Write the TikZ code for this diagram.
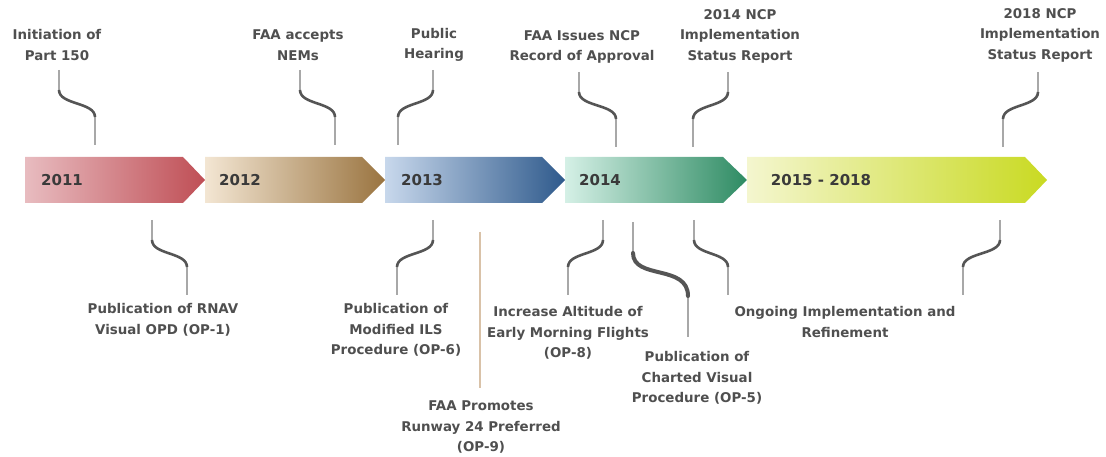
\documentclass[tikz,border=0pt]{standalone}
\usepackage{fontspec}
\setmainfont{DejaVu Sans}
\definecolor{labelgray}{HTML}{4F4F4F}
\definecolor{yeargray}{HTML}{3A3A3A}
\definecolor{stemgray}{HTML}{A8A8A8}
\definecolor{bendgray}{HTML}{555555}
\definecolor{tanline}{HTML}{D9C2A8}
\definecolor{aAl}{HTML}{E8BCC0}\definecolor{aAr}{HTML}{BF4E55}
\definecolor{aBl}{HTML}{F3E6D3}\definecolor{aBr}{HTML}{9A7440}
\definecolor{aCl}{HTML}{C8D8EC}\definecolor{aCr}{HTML}{2F5A8C}
\definecolor{aDl}{HTML}{D5F0E6}\definecolor{aDr}{HTML}{2E8B63}
\definecolor{aEl}{HTML}{F4F6CF}\definecolor{aEr}{HTML}{C9DA22}
\begin{document}
\begin{tikzpicture}[x=1pt,y=-1pt,
  lbl/.style={font=\fontsize{13.4}{20.5}\selectfont\bfseries, text=labelgray, align=center, inner sep=0pt},
  year/.style={font=\fontsize{15}{18}\selectfont\bfseries, text=yeargray, inner sep=0pt},
  stem/.style={draw=stemgray, line width=1.3pt},
  scurve/.style={draw=bendgray, line width=2.6pt},
  scurvethick/.style={draw=bendgray, line width=4pt, line cap=round},
  tanstem/.style={draw=tanline, line width=1.5pt}]
\useasboundingbox (0,0) rectangle (1106,457);
% timeline arrows
\foreach \xo/\xb/\xt/\lc/\rc in {25/183/205/aAl/aAr, 205/362/385/aBl/aBr, 385/542/565/aCl/aCr, 565/723/747/aDl/aDr, 747/1025/1047/aEl/aEr}{
  \shade[left color=\lc, right color=\rc] (\xo,157) -- (\xb,157) -- (\xt,180) -- (\xb,203) -- (\xo,203) -- cycle;
}
\node[year] (y11) at (62,180) {2011};
\node[year] (y12) at (240,180) {2012};
\node[year] (y13) at (422,180) {2013};
\node[year] (y14) at (600,180) {2014};
\node[year] (y15) at (821,180) {2015 - 2018};
% top labels
\node[lbl] (t1) at (57,45) {Initiation of\\Part 150};
\node[lbl] (t2) at (298,45) {FAA accepts\\NEMs};
\node[lbl] (t3) at (434,45) {Public\\Hearing};
\node[lbl] (t4) at (582,47) {FAA Issues NCP\\Record of Approval};
\node[lbl] (t5) at (740,36) {2014 NCP\\Implementation\\Status Report};
\node[lbl] (t6) at (1040,35) {2018 NCP\\Implementation\\Status Report};
% bottom labels
\node[lbl] (b1) at (163,320) {Publication of RNAV\\Visual OPD (OP-1)};
\node[lbl] (b2) at (396,330) {Publication of\\Modified ILS\\Procedure (OP-6)};
\node[lbl] (b3) at (481,427) {FAA Promotes\\Runway 24 Preferred\\(OP-9)};
\node[lbl] (b4) at (568,333) {Increase Altitude of\\Early Morning Flights\\(OP-8)};
\node[lbl] (b5) at (697,378) {Publication of\\Charted Visual\\Procedure (OP-5)};
\node[lbl] (b6) at (845,322) {Ongoing Implementation and\\Refinement};
% S-shaped connectors
\foreach \n/\xa/\xb/\y in {c1/59/95/70, c2/300/335/70, c3/433/398/70, c4/579/616/72, c5/728/693/72, c6/1038/1003/72,
                           d1/152/187/220, d2/433/397/220, d4/603/568/220, d6/694/728/220, d7/1000/963/220}{
  \coordinate (\n-0) at (\xa,\y);
  \coordinate (\n-1) at (\xa,\y+20);
  \coordinate (\n-2) at (\xb,\y+47);
  \coordinate (\n-3) at (\xb,\y+75);
  \draw[stem] (\n-0) -- (\n-1);
  \draw[stem] (\n-2) -- (\n-3);
  \draw[scurve] (\n-1) .. controls (\xa,\y+35) and (\xb,\y+32) .. (\n-2);
}
% thick connector to charted visual procedure
\coordinate (d5-0) at (633,222);
\coordinate (d5-1) at (633,253);
\coordinate (d5-2) at (688,296);
\coordinate (d5-3) at (688,337);
\draw[stem] (d5-0) -- (d5-1);
\draw[stem] (d5-2) -- (d5-3);
\draw[scurvethick] (d5-1) .. controls (633,280) and (688,264) .. (d5-2);
% straight connector to runway 24
\coordinate (d3-0) at (480,232);
\coordinate (d3-1) at (480,388);
\draw[tanstem] (d3-0) -- (d3-1);
\end{tikzpicture}
\end{document}
